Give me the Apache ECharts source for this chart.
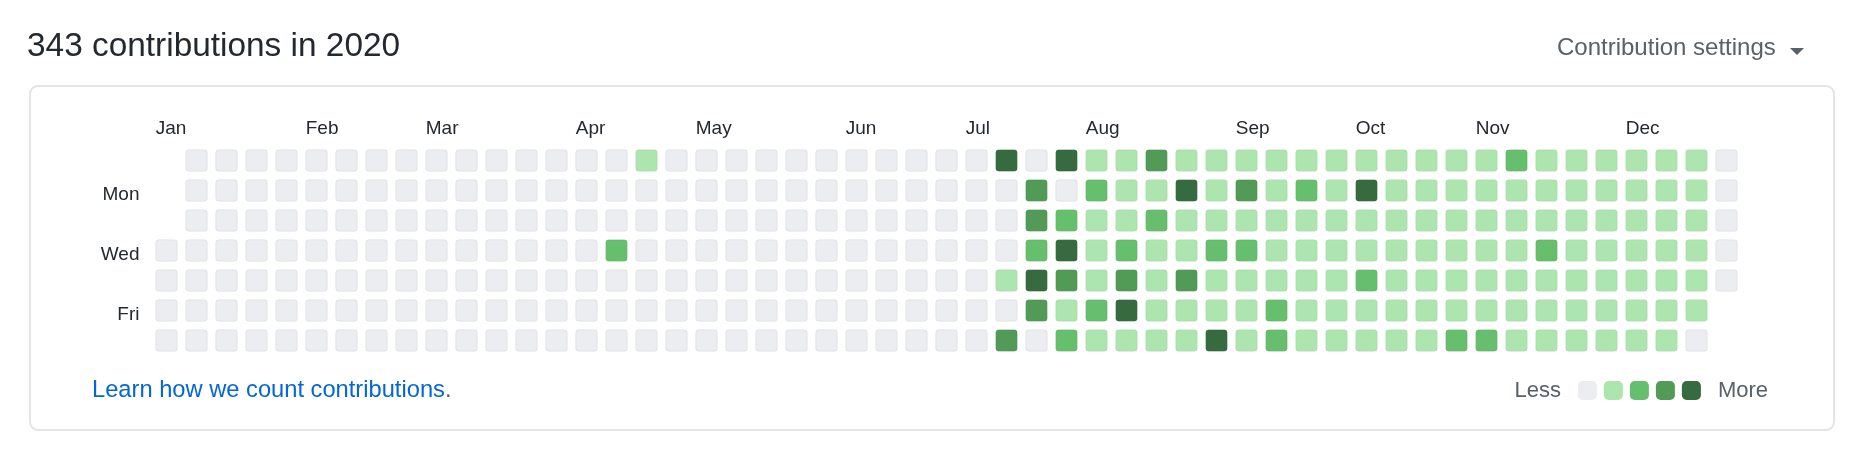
<!DOCTYPE html>
<html>
<head>
<meta charset="utf-8">
<style>
  html, body { margin: 0; padding: 0; background: #ffffff; }
  #chart { width: 1861px; height: 464px; }
</style>
<script src="https://cdn.jsdelivr.net/npm/echarts@6.0.0/dist/echarts.min.js"></script>
</head>
<body>
<div id="chart"></div>
<script>
// ---- data ----
const year = 2020;
const titleText = '343 contributions in 2020';
const dayNames = ['Mon', 'Wed', 'Fri'];
// a date in each labelled weekday row (first full week of the year)
const dayLabelDates = ['2020-01-06', '2020-01-08', '2020-01-10'];
const monthNames = ['Jan', 'Feb', 'Mar', 'Apr', 'May', 'Jun', 'Jul', 'Aug', 'Sep', 'Oct', 'Nov', 'Dec'];
// date of the week column under which each month label sits
const monthLabelDates = ['2020-01-01', '2020-02-02', '2020-03-01', '2020-04-05', '2020-05-03', '2020-06-07',
  '2020-07-05', '2020-08-02', '2020-09-06', '2020-10-04', '2020-11-01', '2020-12-06'];
const levelColors = ['#ebedf0', '#ace6ae', '#66bf6c', '#529b57', '#366b3f'];
const legendText = ['More', 'Less'];
// contributions per week column, Sunday..Saturday (null = outside 2020)
const weeklyCounts = [
  [null, null, null, 0, 0, 0, 0], // wk 0
  [0, 0, 0, 0, 0, 0, 0],
  [0, 0, 0, 0, 0, 0, 0],
  [0, 0, 0, 0, 0, 0, 0],
  [0, 0, 0, 0, 0, 0, 0],
  [0, 0, 0, 0, 0, 0, 0], // wk 5
  [0, 0, 0, 0, 0, 0, 0],
  [0, 0, 0, 0, 0, 0, 0],
  [0, 0, 0, 0, 0, 0, 0],
  [0, 0, 0, 0, 0, 0, 0],
  [0, 0, 0, 0, 0, 0, 0], // wk 10
  [0, 0, 0, 0, 0, 0, 0],
  [0, 0, 0, 0, 0, 0, 0],
  [0, 0, 0, 0, 0, 0, 0],
  [0, 0, 0, 0, 0, 0, 0],
  [0, 0, 0, 3, 0, 0, 0], // wk 15
  [1, 0, 0, 0, 0, 0, 0],
  [0, 0, 0, 0, 0, 0, 0],
  [0, 0, 0, 0, 0, 0, 0],
  [0, 0, 0, 0, 0, 0, 0],
  [0, 0, 0, 0, 0, 0, 0], // wk 20
  [0, 0, 0, 0, 0, 0, 0],
  [0, 0, 0, 0, 0, 0, 0],
  [0, 0, 0, 0, 0, 0, 0],
  [0, 0, 0, 0, 0, 0, 0],
  [0, 0, 0, 0, 0, 0, 0], // wk 25
  [0, 0, 0, 0, 0, 0, 0],
  [0, 0, 0, 0, 0, 0, 0],
  [9, 0, 0, 0, 1, 0, 5],
  [0, 6, 5, 4, 11, 6, 0],
  [10, 0, 3, 8, 6, 2, 4], // wk 30
  [1, 3, 2, 1, 1, 4, 2],
  [2, 1, 1, 3, 5, 12, 1],
  [6, 2, 3, 1, 2, 1, 1],
  [1, 9, 2, 1, 7, 1, 2],
  [2, 1, 1, 4, 1, 2, 8], // wk 35
  [1, 5, 1, 3, 2, 1, 1],
  [1, 2, 1, 1, 2, 3, 4],
  [2, 4, 1, 1, 1, 2, 1],
  [1, 1, 2, 1, 1, 1, 2],
  [1, 10, 1, 2, 3, 1, 1], // wk 40
  [2, 1, 1, 1, 2, 1, 1],
  [1, 1, 2, 1, 1, 1, 1],
  [1, 2, 1, 1, 1, 1, 4],
  [1, 1, 1, 2, 1, 1, 3],
  [3, 1, 1, 1, 2, 1, 1], // wk 45
  [1, 1, 2, 4, 1, 1, 1],
  [1, 1, 1, 1, 2, 1, 1],
  [1, 2, 1, 1, 1, 1, 1],
  [1, 1, 1, 2, 1, 1, 1],
  [2, 1, 1, 1, 1, 2, 1], // wk 50
  [1, 1, 2, 1, 1, 1, 0],
  [0, 0, 0, 0, 0, null, null]
];

// ---- build calendar data ----
const FONT = '"Liberation Sans", Arial, sans-serif';
const pad = (n) => (n < 10 ? '0' : '') + n;
const firstWeekday = new Date(year, 0, 1).getDay();
const cellData = [];
weeklyCounts.forEach((week, w) => {
  week.forEach((v, d) => {
    if (v === null) return;
    const dt = new Date(year, 0, 1 + w * 7 + d - firstWeekday);
    cellData.push([dt.getFullYear() + '-' + pad(dt.getMonth() + 1) + '-' + pad(dt.getDate()), v]);
  });
});

const chart = echarts.init(document.getElementById('chart'), null, { renderer: 'canvas' });
const CELL = 21.5;

chart.setOption({
  backgroundColor: '#ffffff',
  animation: false,
  graphic: [
    { type: 'rect', z: 0, shape: { x: 30, y: 86, width: 1804, height: 344, r: 8 },
      style: { fill: '#ffffff', stroke: '#e1e4e8', lineWidth: 2 } },
    { type: 'text', x: 27, y: 47,
      style: { text: titleText, font: '33.4px ' + FONT, fill: '#24292f', verticalAlign: 'middle', align: 'left' } },
    { type: 'text', x: 1557, y: 48,
      style: { text: 'Contribution settings', font: '24px ' + FONT, fill: '#586069', verticalAlign: 'middle', align: 'left' } },
    { type: 'polygon', shape: { points: [[1790, 48], [1804, 48], [1797, 55]] }, style: { fill: '#586069' } },
    { type: 'text', x: 92, y: 390.5,
      style: { text: '{a|Learn how we count contributions}{b|.}', font: '23.7px ' + FONT, verticalAlign: 'middle', align: 'left',
        rich: { a: { fill: '#0366d6', font: '23.7px ' + FONT }, b: { fill: '#586069', font: '23.7px ' + FONT } } } }
  ],
  visualMap: {
    type: 'piecewise',
    seriesIndex: 0,
    dimension: 1,
    orient: 'horizontal',
    right: 68,
    top: 364.5,
    itemWidth: 19,
    itemHeight: 19,
    itemGap: 7,
    itemSymbol: 'roundRect',
    selectedMode: false,
    hoverLink: false,
    text: legendText,
    textStyle: { color: '#586069', fontSize: 22, fontFamily: FONT, padding: [0, 10], lineHeight: 19, backgroundColor: 'rgba(255,255,255,0)' },
    pieces: [
      { value: 0, color: levelColors[0] },
      { min: 1, max: 2, color: levelColors[1] },
      { min: 3, max: 4, color: levelColors[2] },
      { min: 5, max: 7, color: levelColors[3] },
      { min: 8, max: 99, color: levelColors[4] }
    ]
  },
  calendar: {
    range: String(year),
    orient: 'horizontal',
    left: 151.5,
    top: 145.5,
    cellSize: [30, 30],
    splitLine: { show: false, lineStyle: { width: 0 } },
    itemStyle: { color: 'rgba(0,0,0,0)', borderWidth: 0 },
    yearLabel: { show: false },
    monthLabel: { show: false },
    dayLabel: { show: false }
  },
  series: [
    {
      type: 'custom',
      coordinateSystem: 'calendar',
      dimensions: ['date', 'count'],
      data: cellData,
      renderItem: function (params, api) {
        const p = api.coord([api.value(0)]);
        return {
          type: 'rect',
          shape: { x: p[0] - CELL / 2, y: p[1] - CELL / 2, width: CELL, height: CELL, r: 3 },
          style: { fill: api.visual('color'), stroke: 'rgba(27,31,35,0.07)', lineWidth: 1 }
        };
      }
    },
    {
      type: 'custom',
      coordinateSystem: 'calendar',
      dimensions: ['date'],
      data: monthLabelDates.map((d) => [d]),
      silent: true,
      renderItem: function (params, api) {
        const p = api.coord([api.value(0)]);
        return {
          type: 'text',
          x: p[0] - CELL / 2,
          y: params.coordSys.y - 17.1,
          style: { text: monthNames[params.dataIndex], font: '19px ' + FONT, fill: '#24292f', verticalAlign: 'middle', align: 'left' }
        };
      }
    },
    {
      type: 'custom',
      coordinateSystem: 'calendar',
      dimensions: ['date'],
      data: dayLabelDates.map((d) => [d]),
      silent: true,
      renderItem: function (params, api) {
        const p = api.coord([api.value(0)]);
        return {
          type: 'text',
          x: params.coordSys.x - 12,
          y: p[1] + 4,
          style: { text: dayNames[params.dataIndex], font: '19px ' + FONT, fill: '#24292f', verticalAlign: 'middle', align: 'right' }
        };
      }
    }
  ]
});
</script>
</body>
</html>
